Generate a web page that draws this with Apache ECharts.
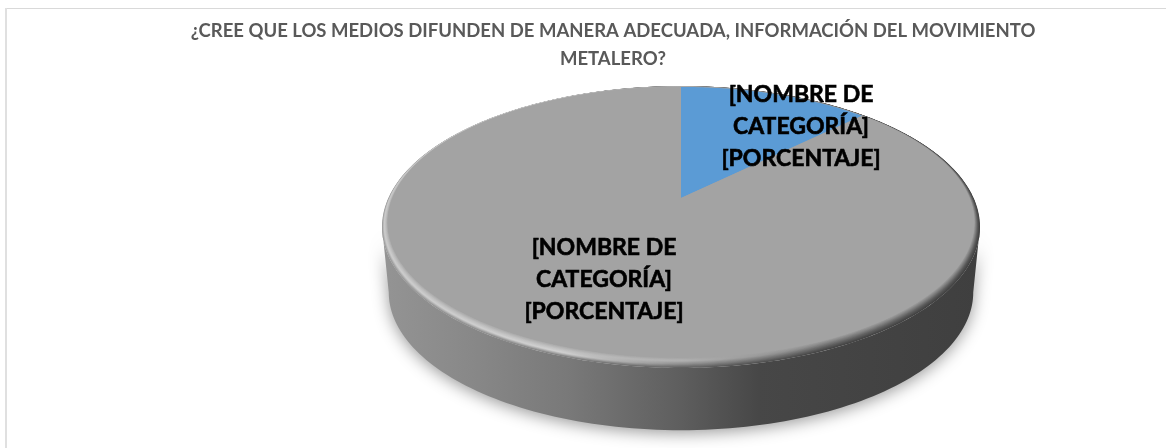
<!DOCTYPE html>
<html>
<head>
<meta charset="utf-8">
<title>Medios y movimiento metalero</title>
<script src="https://cdn.jsdelivr.net/npm/echarts@6/dist/echarts.min.js"></script>
<style>
html, body { margin: 0; padding: 0; background: #fff; }
#chart { width: 1166px; height: 448px; }
</style>
</head>
<body>
<div id="chart"></div>
<script>
var titleLines = ['¿CREE QUE LOS MEDIOS DIFUNDEN DE MANERA ADECUADA, INFORMACIÓN DEL MOVIMIENTO', 'METALERO?'];
var categories = ['Sí', 'No'];
var values = [12.5, 87.5];
var sliceColors = ['#5b9bd5', '#a3a3a3'];
var labelLines = ['[NOMBRE DE', 'CATEGORÍA]', '[PORCENTAJE]'];

var total = values[0] + values[1];
var FONT = 'Lato, "Open Sans", sans-serif';
var LABEL_POS = [[801, 127], [604, 280]];
var cx = 681, apexY = 198, depth = 66;
// perspective of the tilted disc: outer = edge of the bevel, face = flat top, lower = bottom of the wall
var outer = { A: 292.6, B: 135, k: 0.2057 };
var face = { A: 288.5, B: 131, k: 0.1795 };
var lower = { A: 286, B: 132, k: 0.2057 };

function rim(p, theta, dy) {
    var w = 1 + p.k * Math.cos(theta);
    return [cx + p.A * Math.sin(theta) / w, apexY - p.B * Math.cos(theta) / w + (dy || 0)];
}
function ring(p) {
    var pts = [];
    for (var i = 0; i < 360; i += 1) {
        pts.push(rim(p, i * Math.PI / 180));
    }
    return pts;
}
function hgrad(stops) {
    return new echarts.graphic.LinearGradient(0, 0, 1, 0, stops);
}
function gray(v) {
    v = Math.round(v);
    return 'rgb(' + v + ',' + v + ',' + v + ')';
}
function lerp(list, t) {
    var n = list.length - 1, i = Math.min(Math.floor(t * n), n - 1);
    return list[i] + (list[i + 1] - list[i]) * (t * n - i);
}

// wall and bevel, sits under the slices
function renderBody(params, api) {
    var children = [];
    var edge = Math.acos(-outer.k);
    var pts = [], i, a;
    for (i = 0; i <= 120; i++) {
        a = edge + (2 * Math.PI - 2 * edge) * i / 120;
        pts.push(rim(lower, a, depth));
    }
    for (i = 120; i >= 0; i--) {
        a = edge + (2 * Math.PI - 2 * edge) * i / 120;
        pts.push(rim(outer, a, 0));
    }
    children.push({
        type: 'polygon',
        shape: { points: pts },
        style: {
            fill: hgrad([
                { offset: 0, color: '#949494' },
                { offset: 0.15, color: '#888888' },
                { offset: 0.32, color: '#787878' },
                { offset: 0.5, color: '#5e5e5e' },
                { offset: 0.63, color: '#474747' },
                { offset: 1, color: '#3f3f3f' }
            ]),
            shadowBlur: 16,
            shadowOffsetY: 3,
            shadowColor: 'rgba(0,0,0,0.4)'
        }
    });
    var layers = 14;
    for (i = 0; i <= layers; i++) {
        var t = i / layers;
        var p = {
            A: outer.A + (face.A - outer.A) * t,
            B: outer.B + (face.B - outer.B) * t,
            k: outer.k + (face.k - outer.k) * t
        };
        children.push({
            type: 'polygon',
            shape: { points: ring(p) },
            style: {
                fill: hgrad([
                    { offset: 0, color: gray(lerp([150, 205, 190, 163], t)) },
                    { offset: 0.3, color: gray(lerp([125, 210, 190, 163], t)) },
                    { offset: 0.5, color: gray(lerp([95, 140, 178, 163], t)) },
                    { offset: 0.75, color: gray(lerp([66, 95, 130, 163], t)) },
                    { offset: 1, color: gray(lerp([62, 85, 125, 163], t)) }
                ])
            }
        });
    }
    return { type: 'group', children: children };
}

function renderSlice(params, api) {
    var idx = params.dataIndex;
    var before = 0;
    for (var j = 0; j < idx; j++) before += values[j];
    var start = before / total * 2 * Math.PI;
    var end = start + api.value(0) / total * 2 * Math.PI;
    var pts = [[cx, apexY]];
    var steps = Math.ceil((end - start) * 90);
    for (var i = 0; i <= steps; i++) {
        pts.push(rim(face, start + (end - start) * i / steps));
    }
    return {
        type: 'polygon',
        shape: { points: pts },
        style: { fill: sliceColors[idx] }
    };
}

function renderLabel(params, api) {
    var pos = LABEL_POS[params.dataIndex];
    return {
        type: 'text',
        z2: 10,
        style: {
            x: pos[0],
            y: pos[1],
            text: labelLines.join('\n'),
            fill: '#000',
            stroke: '#000',
            lineWidth: 0.6,
            font: 'bold 23px ' + FONT,
            lineHeight: 32,
            align: 'center',
            verticalAlign: 'middle'
        }
    };
}

var chart = echarts.init(document.getElementById('chart'));
chart.setOption({
    animation: false,
    backgroundColor: '#fff',
    title: {
        text: titleLines.join('\n'),
        left: 608,
        top: 12,
        textAlign: 'center',
        textStyle: { fontFamily: FONT, fontSize: 18.5, fontWeight: 'bold', color: '#595959', lineHeight: 28 }
    },
    graphic: [
        { type: 'rect', shape: { x: 5, y: 8, width: 1161, height: 1 }, style: { fill: '#d9d9d9' }, silent: true },
        { type: 'rect', shape: { x: 5, y: 8, width: 2, height: 440 }, style: { fill: '#e0e0e0' }, silent: true }
    ],
    series: [
        { type: 'custom', coordinateSystem: 'none', renderItem: renderBody, data: [[total]], z: 1, silent: true },
        {
            type: 'custom', coordinateSystem: 'none', renderItem: renderSlice, z: 2,
            data: categories.map(function (c, i) { return { name: c, value: [values[i]] }; })
        },
        {
            type: 'custom', coordinateSystem: 'none', renderItem: renderLabel, z: 3, silent: true,
            data: categories.map(function (c, i) { return { name: c, value: [values[i]] }; })
        }
    ]
});
</script>
</body>
</html>
